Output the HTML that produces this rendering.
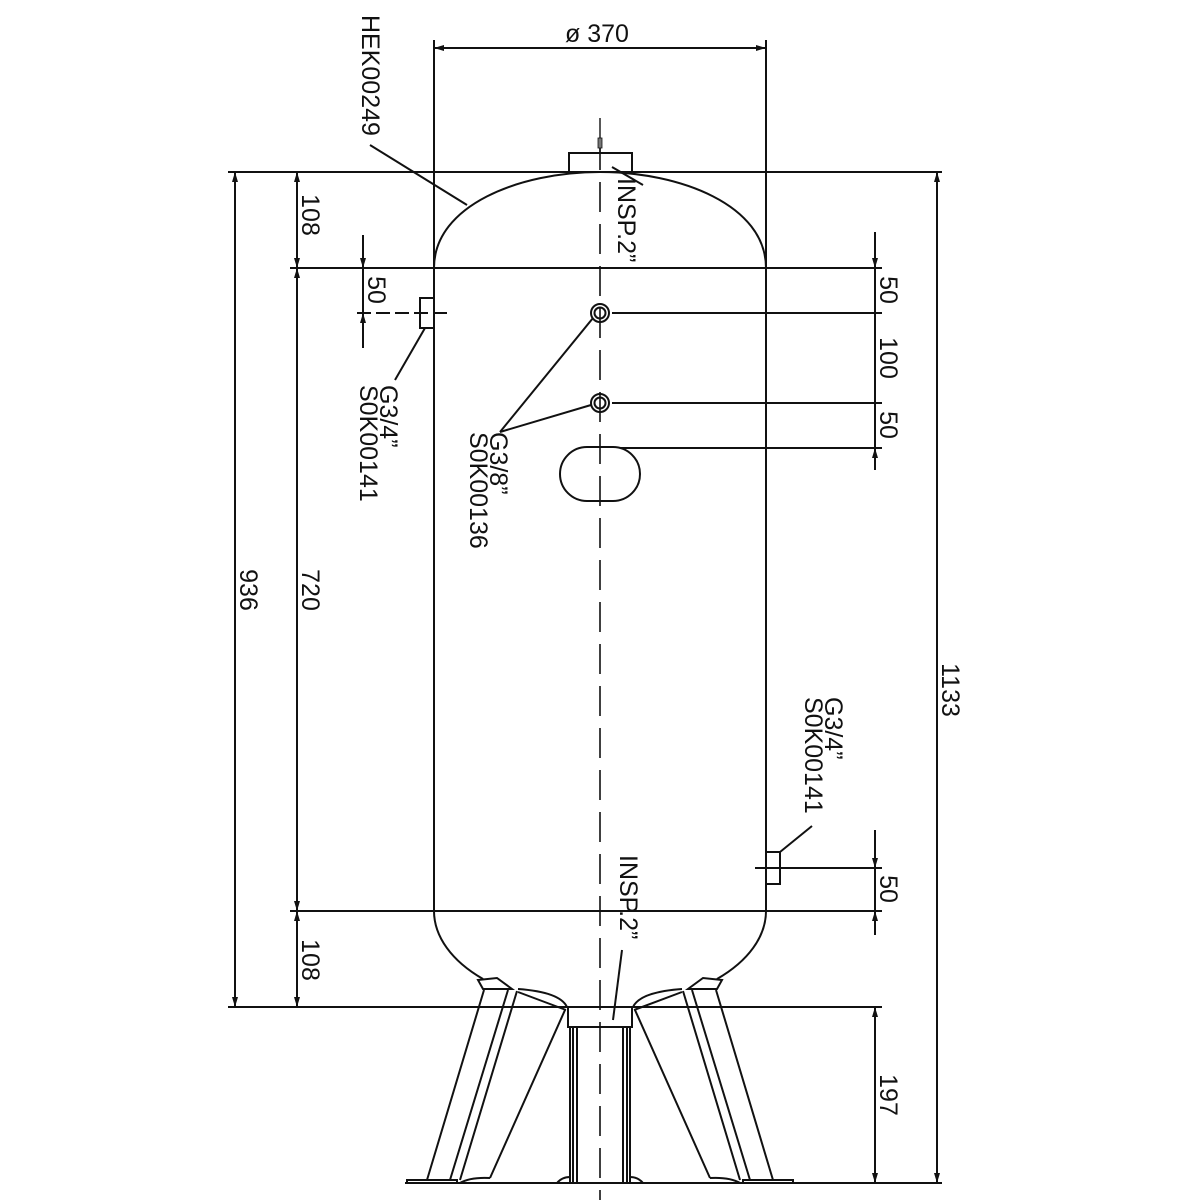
<!DOCTYPE html>
<html><head><meta charset="utf-8"><style>html,body{margin:0;padding:0;background:#fff}svg{display:block}text{font-family:"Liberation Sans",sans-serif;font-size:25px;fill:#111}</style></head><body>
<svg width="1200" height="1200" viewBox="0 0 1200 1200" xmlns="http://www.w3.org/2000/svg">
<defs><marker id="a" viewBox="0 0 10 10" refX="10" refY="5" markerWidth="10" markerHeight="10" markerUnits="userSpaceOnUse" orient="auto-start-reverse"><path d="M0,2 L10,5 L0,8 z" fill="#111"/></marker></defs>
<g stroke="#111" stroke-width="2" fill="none">
<line x1="434" y1="40" x2="434" y2="911"/><line x1="766" y1="40" x2="766" y2="911"/>
<path d="M434,268 C434,205 520,172 600,172 C680,172 766,205 766,268"/>
<path d="M434,911 A166,96 0 0 0 483,979"/><path d="M766,911 A166,96 0 0 1 717,979"/>
<line x1="228" y1="172" x2="942" y2="172"/>
<line x1="290" y1="268" x2="882" y2="268"/>
<line x1="612" y1="313" x2="882" y2="313"/>
<line x1="612" y1="403" x2="882" y2="403"/>
<line x1="620" y1="448" x2="882" y2="448"/>
<line x1="290" y1="911" x2="882" y2="911"/>
<line x1="790" y1="868" x2="882" y2="868"/>
<line x1="228" y1="1007" x2="882" y2="1007"/>
<line x1="600" y1="1183" x2="942" y2="1183"/>
<line x1="405" y1="1183" x2="795" y2="1183"/>
<line x1="434" y1="48" x2="766" y2="48" marker-start="url(#a)" marker-end="url(#a)"/>
<line x1="235" y1="172" x2="235" y2="1007" marker-start="url(#a)" marker-end="url(#a)"/>
<line x1="297" y1="172" x2="297" y2="268" marker-start="url(#a)" marker-end="url(#a)"/>
<line x1="297" y1="268" x2="297" y2="911" marker-start="url(#a)" marker-end="url(#a)"/>
<line x1="297" y1="911" x2="297" y2="1007" marker-start="url(#a)" marker-end="url(#a)"/>
<line x1="363" y1="235" x2="363" y2="268" marker-end="url(#a)"/>
<line x1="363" y1="268" x2="363" y2="313"/>
<line x1="363" y1="313" x2="363" y2="348" marker-start="url(#a)"/>
<line x1="937" y1="172" x2="937" y2="1183" marker-start="url(#a)" marker-end="url(#a)"/>
<line x1="875" y1="232" x2="875" y2="268" marker-end="url(#a)"/>
<line x1="875" y1="268" x2="875" y2="448"/>
<line x1="875" y1="448" x2="875" y2="470" marker-start="url(#a)"/>
<line x1="875" y1="830" x2="875" y2="868" marker-end="url(#a)"/>
<line x1="875" y1="868" x2="875" y2="911"/>
<line x1="875" y1="911" x2="875" y2="935" marker-start="url(#a)"/>
<line x1="875" y1="1007" x2="875" y2="1183" marker-start="url(#a)" marker-end="url(#a)"/>
<line x1="600" y1="140" x2="600" y2="1200" stroke-dasharray="30 12" stroke-width="1.6"/>
<path d="M569,172 V153 H632 V172"/><line x1="600" y1="118" x2="600" y2="153" stroke-width="1.4"/><rect x="598" y="138" width="4" height="10" fill="#777" stroke-width="0.8"/>
<rect x="420" y="298" width="14" height="30"/><line x1="357" y1="313" x2="447" y2="313" stroke-dasharray="14 5"/>
<line x1="425" y1="328" x2="395" y2="380"/>
<circle cx="600" cy="313" r="9"/><circle cx="600" cy="313" r="5.5"/>
<circle cx="600" cy="403" r="9"/><circle cx="600" cy="403" r="5.5"/>
<line x1="500" y1="432" x2="593" y2="318"/><line x1="500" y1="432" x2="591" y2="405"/>
<rect x="560" y="447" width="80" height="54" rx="27"/>
<rect x="766" y="852" width="14" height="32"/><line x1="755" y1="868" x2="792" y2="868"/><line x1="780" y1="852" x2="812" y2="826"/>
<line x1="370" y1="145" x2="467" y2="205"/>
<line x1="612" y1="167" x2="643" y2="185"/>
<line x1="622" y1="950" x2="613" y2="1020"/>
<rect x="568" y="1007" width="64" height="20"/>
<path d="M570,1027V1182 M573,1027V1182 M577,1027V1182 M623,1027V1182 M627,1027V1182 M630,1027V1182"/>
<path d="M557,1183 Q562,1177 570,1177 M643,1183 Q638,1177 630,1177"/>
<path d="M478,980 L497,978 L512,989 L483,989 Z"/>
<path d="M484,990 L427,1180 M508,990 L450,1180 M517,991 L460,1180 M565,1010 L490,1178"/>
<path d="M518,989 Q560,992 567,1007 M518,992 L566,1010"/>
<rect x="407" y="1180" width="50" height="3"/>
<path d="M460,1183 Q470,1177 490,1178"/>
<path d="M722,980 L703,978 L688,989 L717,989 Z"/>
<path d="M716,990 L773,1180 M692,990 L750,1180 M683,991 L740,1180 M635,1010 L710,1178"/>
<path d="M682,989 Q640,992 633,1007 M682,992 L634,1010"/>
<rect x="743" y="1180" width="50" height="3"/>
<path d="M740,1183 Q730,1177 710,1178"/>
</g>
<g>
<text x="597" y="42" text-anchor="middle">ø 370</text>
<text transform="translate(362,15) rotate(90)">HEK00249</text>
<text transform="translate(618,178) rotate(90)">INSP.2”</text>
<text transform="translate(620,855) rotate(90)">INSP.2”</text>
<text transform="translate(302,215) rotate(90)" text-anchor="middle">108</text>
<text transform="translate(302,590) rotate(90)" text-anchor="middle">720</text>
<text transform="translate(302,960) rotate(90)" text-anchor="middle">108</text>
<text transform="translate(240,590) rotate(90)" text-anchor="middle">936</text>
<text transform="translate(368,290) rotate(90)" text-anchor="middle">50</text>
<text transform="translate(380,385) rotate(90)">G3/4”</text>
<text transform="translate(360,385) rotate(90)">S0K00141</text>
<text transform="translate(490,432) rotate(90)">G3/8”</text>
<text transform="translate(470,432) rotate(90)">S0K00136</text>
<text transform="translate(825,697) rotate(90)">G3/4”</text>
<text transform="translate(805,697) rotate(90)">S0K00141</text>
<text transform="translate(880,290) rotate(90)" text-anchor="middle">50</text>
<text transform="translate(880,358) rotate(90)" text-anchor="middle">100</text>
<text transform="translate(880,425) rotate(90)" text-anchor="middle">50</text>
<text transform="translate(880,889) rotate(90)" text-anchor="middle">50</text>
<text transform="translate(880,1095) rotate(90)" text-anchor="middle">197</text>
<text transform="translate(942,690) rotate(90)" text-anchor="middle">1133</text>
</g>
</svg>
</body></html>
